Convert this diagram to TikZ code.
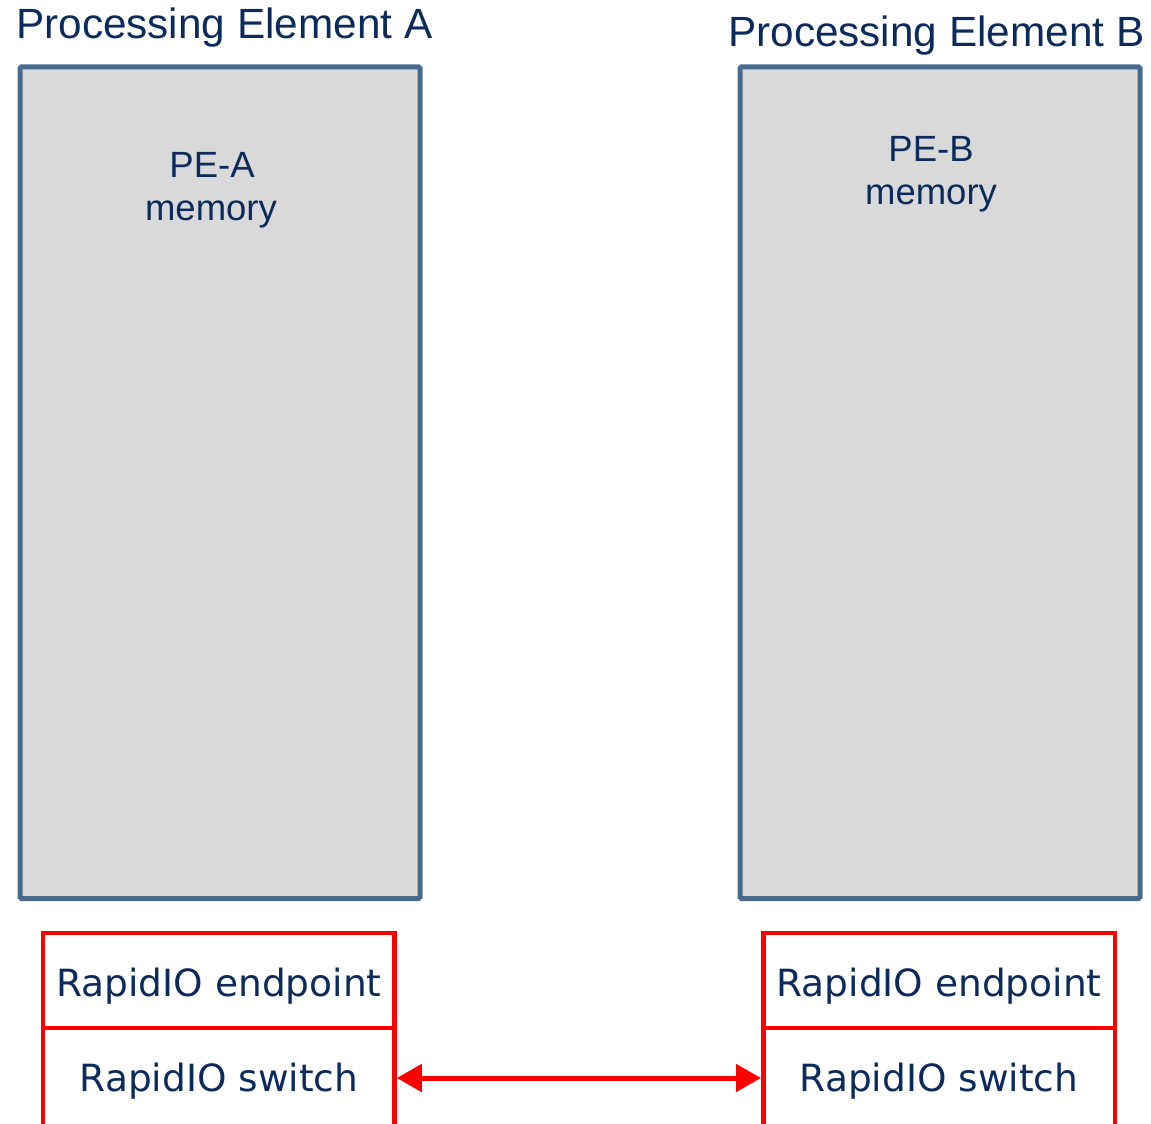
\documentclass[tikz,border=0pt]{standalone}
\usepackage{fontspec}
\setmainfont{Liberation Sans}
\newfontfamily\verdanalike{DejaVu Sans}
\usetikzlibrary{arrows.meta}
\definecolor{navytext}{HTML}{0B2B5C}
\definecolor{peborder}{HTML}{4A6A8D}
\definecolor{pefill}{HTML}{D9D9D9}
\definecolor{rioRed}{HTML}{FF0000}
\begin{document}
\begin{tikzpicture}[x=1pt,y=-1pt,
  pebox/.style={draw=peborder, fill=pefill, line width=5pt, rounded corners=1.5pt,
    inner sep=0pt, minimum width=400pt, minimum height=831.5pt},
  riobox/.style={draw=rioRed, line width=4.5pt, inner sep=0pt, minimum width=351.5pt},
  titletext/.style={anchor=base west, inner sep=0pt, text=navytext, font=\fontsize{42.3}{48}\selectfont},
  memtext/.style={anchor=base, inner sep=0pt, text=navytext, font=\fontsize{36.5}{42}\selectfont},
  riotext/.style={anchor=base, inner sep=0pt, text=navytext, font=\verdanalike\fontsize{37.5}{44}\selectfont},
  link/.style={draw=rioRed, line width=5pt, {Triangle[length=25pt,width=27pt]}-{Triangle[length=25pt,width=27pt]}}
]
\useasboundingbox (0,0) rectangle (1151,1124);

% processing element memories
\node[pebox] (peA) at (220,482.75) {};
\node[pebox] (peB) at (940,482.75) {};

\node[titletext] (titleA) at (16,39) {Processing Element A};
\node[titletext] (titleB) at (728,47) {Processing Element B};

\node[memtext] (memA1) at (212,177) {PE-A};
\node[memtext] (memA2) at (211,220) {memory};
\node[memtext] (memB1) at (931,161.5) {PE-B};
\node[memtext] (memB2) at (931,204) {memory};

% RapidIO endpoint and switch stacks
\node[riobox, minimum height=95pt] (epA) at (218.75,980.5) {};
\node[riobox, minimum height=100pt] (swA) at (218.75,1078) {};
\node[riobox, minimum height=95pt] (epB) at (939,980.5) {};
\node[riobox, minimum height=100pt] (swB) at (939,1078) {};

\node[riotext] (epAl) at (219,996.5) {RapidIO endpoint};
\node[riotext] (swAl) at (219,1091.5) {RapidIO switch};
\node[riotext] (epBl) at (939,996.5) {RapidIO endpoint};
\node[riotext] (swBl) at (939,1091.5) {RapidIO switch};

% switch-to-switch link
\draw[link] (swA.east) -- (swB.west);
\end{tikzpicture}
\end{document}
